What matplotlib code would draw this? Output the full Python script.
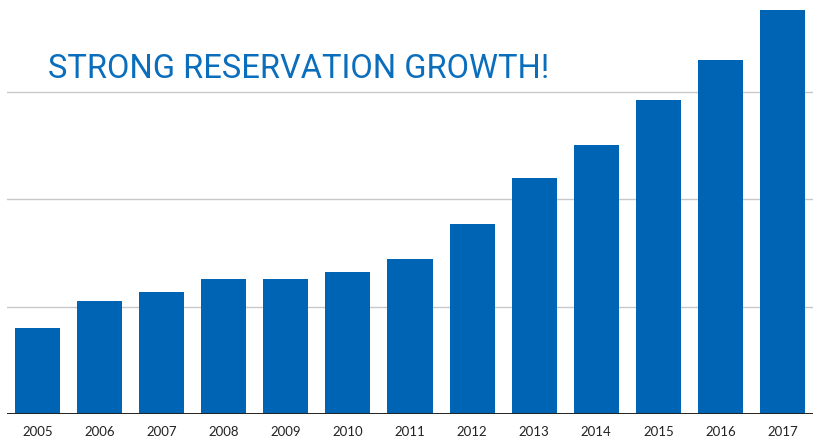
import matplotlib
matplotlib.use("Agg")
import matplotlib.pyplot as plt

years = ["2005", "2006", "2007", "2008", "2009", "2010", "2011",
         "2012", "2013", "2014", "2015", "2016", "2017"]
values = [0.80, 1.05, 1.14, 1.26, 1.26, 1.32, 1.44,
          1.77, 2.20, 2.51, 2.93, 3.30, 3.76]
gridlines = [1, 2, 3]
title = "STRONG RESERVATION GROWTH!"

blue = "#0064B4"

fig = plt.figure(figsize=(8.13, 4.42), dpi=100)
ax = fig.add_axes([7/813, 28/442, 806/813, 414/442])

x = list(range(len(years)))
ax.bar(x, values, width=0.725, color=blue, zorder=3)
for g in gridlines:
    ax.axhline(g, color="#c8c8c8", lw=1.0, zorder=1)
ax.axhline(0, color="#222222", lw=1.4, zorder=4)

ax.set_xlim(-0.49, 12.49)
ax.set_ylim(0, 3.857)
ax.set_xticks(x)
ax.set_xticklabels(years, fontsize=9.5, color="#222222", family="Lato")
ax.tick_params(axis="x", length=0, pad=9)
ax.set_yticks([])
for s in ax.spines.values():
    s.set_visible(False)

t = fig.text(48/813, 1 - 78/442, title, fontsize=23.5, color="#0A6EBD",
             family="Roboto", fontweight="normal",
             va="baseline", ha="left")

fig.savefig("out.png", dpi=100)
